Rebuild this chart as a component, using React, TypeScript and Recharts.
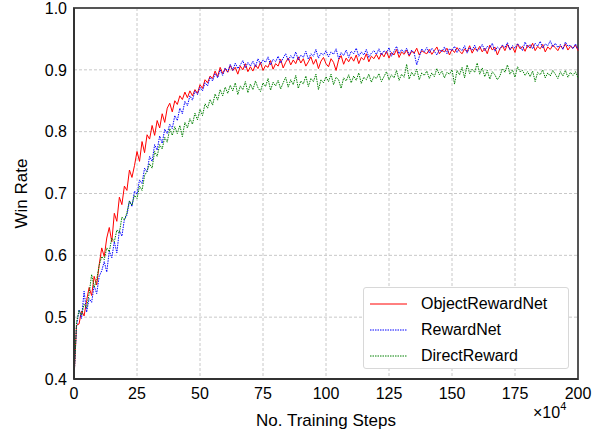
import React from 'react';
import { LineChart, Line, XAxis, YAxis, CartesianGrid, ReferenceArea } from 'recharts';

// training steps, in units of 10^4
const steps = Array.from({ length: 201 }, (_, i) => i);

const objectRewardNet = [
  0.40,
  0.487, 0.489, 0.510, 0.502, 0.527, 0.548, 0.535, 0.566, 0.552, 0.585,
  0.612, 0.598, 0.628, 0.645, 0.622, 0.668, 0.655, 0.694, 0.682, 0.712,
  0.705, 0.738, 0.726, 0.745, 0.768, 0.752, 0.784, 0.766, 0.795, 0.788,
  0.810, 0.794, 0.818, 0.806, 0.829, 0.815, 0.838, 0.846, 0.832, 0.850,
  0.844, 0.858, 0.852, 0.864, 0.855, 0.866, 0.858, 0.868, 0.862, 0.876,
  0.870, 0.884, 0.879, 0.890, 0.886, 0.898, 0.889, 0.904, 0.894, 0.902,
  0.896, 0.907, 0.899, 0.904, 0.893, 0.906, 0.900, 0.910, 0.897, 0.905,
  0.898, 0.908, 0.902, 0.912, 0.899, 0.907, 0.904, 0.915, 0.901, 0.910,
  0.906, 0.917, 0.903, 0.912, 0.919, 0.908, 0.916, 0.910, 0.921, 0.911,
  0.918, 0.906, 0.913, 0.921, 0.909, 0.917, 0.902, 0.914, 0.920, 0.910,
  0.905, 0.918, 0.912, 0.899, 0.916, 0.923, 0.909, 0.919, 0.913, 0.921,
  0.914, 0.924, 0.910, 0.920, 0.916, 0.926, 0.913, 0.922, 0.918, 0.925,
  0.917, 0.927, 0.921, 0.930, 0.919, 0.928, 0.924, 0.933, 0.920, 0.929,
  0.925, 0.932, 0.922, 0.930, 0.927, 0.935, 0.924, 0.931, 0.928, 0.926,
  0.933, 0.925, 0.931, 0.937, 0.926, 0.932, 0.929, 0.935, 0.924, 0.933,
  0.928, 0.936, 0.930, 0.926, 0.934, 0.929, 0.939, 0.927, 0.935, 0.931,
  0.938, 0.929, 0.935, 0.926, 0.940, 0.932, 0.937, 0.924, 0.934, 0.939,
  0.931, 0.941, 0.933, 0.937, 0.928, 0.942, 0.934, 0.938, 0.930, 0.940,
  0.935, 0.943, 0.931, 0.938, 0.934, 0.941, 0.929, 0.937, 0.933, 0.940,
  0.936, 0.931, 0.939, 0.934, 0.942, 0.932, 0.938, 0.935, 0.940, 0.931,
];

const rewardNet = [
  0.40,
  0.485, 0.512, 0.498, 0.542, 0.508, 0.530, 0.524, 0.551, 0.538, 0.566,
  0.575, 0.590, 0.573, 0.607, 0.596, 0.622, 0.604, 0.640, 0.631, 0.658,
  0.665, 0.688, 0.679, 0.704, 0.699, 0.722, 0.716, 0.741, 0.735, 0.760,
  0.752, 0.779, 0.770, 0.793, 0.781, 0.804, 0.797, 0.812, 0.805, 0.826,
  0.818, 0.838, 0.829, 0.849, 0.842, 0.858, 0.851, 0.866, 0.860, 0.872,
  0.866, 0.879, 0.874, 0.888, 0.882, 0.894, 0.887, 0.900, 0.891, 0.903,
  0.897, 0.909, 0.899, 0.911, 0.902, 0.908, 0.915, 0.903, 0.912, 0.906,
  0.914, 0.905, 0.918, 0.909, 0.916, 0.912, 0.921, 0.908, 0.917, 0.913,
  0.922, 0.911, 0.919, 0.926, 0.915, 0.923, 0.918, 0.929, 0.916, 0.924,
  0.920, 0.930, 0.917, 0.926, 0.922, 0.933, 0.919, 0.927, 0.924, 0.931,
  0.921, 0.929, 0.925, 0.934, 0.918, 0.928, 0.923, 0.932, 0.920, 0.930,
  0.926, 0.935, 0.922, 0.929, 0.924, 0.933, 0.920, 0.927, 0.931, 0.925,
  0.934, 0.924, 0.931, 0.927, 0.936, 0.922, 0.930, 0.938, 0.926, 0.933,
  0.928, 0.935, 0.924, 0.932, 0.927, 0.908, 0.921, 0.934, 0.929, 0.936,
  0.927, 0.935, 0.930, 0.924, 0.933, 0.929, 0.937, 0.926, 0.934, 0.931,
  0.938, 0.928, 0.935, 0.931, 0.939, 0.927, 0.936, 0.932, 0.940, 0.930,
  0.934, 0.941, 0.931, 0.938, 0.935, 0.943, 0.930, 0.937, 0.933, 0.940,
  0.936, 0.944, 0.932, 0.939, 0.935, 0.942, 0.938, 0.931, 0.945, 0.936,
  0.941, 0.934, 0.943, 0.938, 0.946, 0.935, 0.942, 0.939, 0.947, 0.937,
  0.943, 0.936, 0.941, 0.933, 0.945, 0.938, 0.940, 0.934, 0.942, 0.933,
];

const directReward = [
  0.40,
  0.492, 0.511, 0.503, 0.521, 0.515, 0.538, 0.569, 0.548, 0.561, 0.584,
  0.598, 0.593, 0.612, 0.606, 0.628, 0.622, 0.641, 0.636, 0.662, 0.657,
  0.669, 0.688, 0.681, 0.697, 0.692, 0.712, 0.705, 0.729, 0.736, 0.748,
  0.741, 0.768, 0.760, 0.779, 0.772, 0.791, 0.783, 0.805, 0.794, 0.808,
  0.797, 0.810, 0.792, 0.815, 0.806, 0.821, 0.812, 0.830, 0.819, 0.836,
  0.826, 0.845, 0.838, 0.852, 0.843, 0.861, 0.851, 0.868, 0.858, 0.872,
  0.862, 0.875, 0.866, 0.879, 0.860, 0.874, 0.868, 0.881, 0.863, 0.877,
  0.868, 0.882, 0.871, 0.865, 0.879, 0.873, 0.886, 0.867, 0.880, 0.874,
  0.883, 0.869, 0.879, 0.888, 0.872, 0.884, 0.876, 0.891, 0.870, 0.882,
  0.877, 0.890, 0.873, 0.886, 0.881, 0.893, 0.868, 0.884, 0.879, 0.889,
  0.881, 0.893, 0.876, 0.888, 0.884, 0.870, 0.887, 0.882, 0.892, 0.879,
  0.890, 0.883, 0.895, 0.878, 0.888, 0.884, 0.893, 0.880, 0.889, 0.886,
  0.894, 0.881, 0.889, 0.897, 0.884, 0.892, 0.887, 0.899, 0.883, 0.893,
  0.888, 0.909, 0.885, 0.896, 0.890, 0.901, 0.884, 0.895, 0.891, 0.898,
  0.886, 0.895, 0.889, 0.902, 0.892, 0.898, 0.887, 0.896, 0.893, 0.900,
  0.877, 0.899, 0.892, 0.904, 0.887, 0.908, 0.894, 0.901, 0.896, 0.911,
  0.893, 0.903, 0.889, 0.899, 0.885, 0.897, 0.892, 0.884, 0.890, 0.902,
  0.896, 0.908, 0.893, 0.900, 0.888, 0.905, 0.897, 0.899, 0.891, 0.897,
  0.889, 0.898, 0.881, 0.896, 0.892, 0.900, 0.887, 0.895, 0.890, 0.899,
  0.893, 0.886, 0.897, 0.890, 0.899, 0.888, 0.896, 0.891, 0.897, 0.887,
];

const xTicks = [0, 25, 50, 75, 100, 125, 150, 175, 200];
const yTicks = [0.4, 0.5, 0.6, 0.7, 0.8, 0.9, 1.0];

const series = [
  { key: 'ObjectRewardNet', color: '#ff0000', dash: undefined },
  { key: 'RewardNet', color: '#0000ff', dash: '1.5 1' },
  { key: 'DirectReward', color: '#008000', dash: '1.5 1' },
];

const data = steps.map((s, i) => ({
  step: s,
  ObjectRewardNet: objectRewardNet[i],
  RewardNet: rewardNet[i],
  DirectReward: directReward[i],
}));

const FONT = '"Liberation Sans", Arial, sans-serif';

function LegendBox() {
  return (
    <div
      style={{
        position: 'absolute',
        left: 363,
        top: 287,
        width: 206,
        height: 82,
        background: '#fff',
        border: '1px solid #d8d8d8',
        borderRadius: 3,
        boxSizing: 'border-box',
        paddingTop: 3,
        fontFamily: FONT,
        fontSize: 16,
        color: '#000',
      }}
    >
      {series.map((s) => (
        <div key={s.key} style={{ display: 'flex', alignItems: 'center', height: 26 }}>
          <svg width={51} height={10} style={{ marginLeft: 6, flex: 'none' }}>
            <line x1={0} x2={37} y1={5} y2={5} stroke={s.color} strokeWidth={1} strokeDasharray={s.dash} />
          </svg>
          <span>{s.key}</span>
        </div>
      ))}
    </div>
  );
}

export default function App() {
  return (
    <div style={{ position: 'absolute', left: 0, top: 0, width: 602, height: 437, background: '#fff' }}>
      <LineChart width={602} height={437} data={data} margin={{ top: 8, right: 24, left: 0, bottom: 0 }}>
        <CartesianGrid xAxisId="main" yAxisId="main" stroke="#c8c8c8" strokeDasharray="3 2" />
        <XAxis
          xAxisId="main"
          dataKey="step"
          type="number"
          domain={[0, 200]}
          ticks={xTicks}
          height={58}
          tickSize={0}
          tickMargin={9}
          axisLine={{ stroke: '#333', strokeWidth: 2 }}
          tickLine={false}
          tick={{ fill: '#000', fontSize: 16, fontFamily: FONT }}
          interval={0}
        />
        <YAxis
          yAxisId="main"
          type="number"
          domain={[0.4, 1.0]}
          ticks={yTicks}
          width={74}
          tickSize={0}
          tickMargin={7}
          axisLine={{ stroke: '#333', strokeWidth: 2 }}
          tickLine={false}
          tick={{ fill: '#000', fontSize: 16, fontFamily: FONT }}
          tickFormatter={(v: number) => v.toFixed(1)}
          interval={0}
          label={{ value: 'Win Rate', angle: -90, position: 'insideLeft', offset: 21, style: { fill: '#000', fontSize: 17, fontFamily: FONT, textAnchor: 'middle' } }}
        />
        <ReferenceArea
          xAxisId="main"
          yAxisId="main"
          x1={0}
          x2={200}
          y1={0.4}
          y2={1.0}
          fill="none"
          fillOpacity={0}
          stroke="#555"
          strokeWidth={2}
        />
        {series.map((s) => (
          <Line
            key={s.key}
            xAxisId="main"
            yAxisId="main"
            type="linear"
            dataKey={s.key}
            stroke={s.color}
            strokeWidth={1}
            strokeDasharray={s.dash}
            dot={false}
            activeDot={false}
            isAnimationActive={false}
          />
        ))}
      </LineChart>
      <LegendBox />
      <div
        style={{
          position: 'absolute',
          left: 74,
          width: 504,
          top: 411,
          textAlign: 'center',
          fontFamily: FONT,
          fontSize: 17,
          color: '#000',
        }}
      >
        No. Training Steps
      </div>
      <div
        style={{
          position: 'absolute',
          left: 533,
          top: 402,
          fontFamily: FONT,
          fontSize: 16,
          color: '#000',
          whiteSpace: 'nowrap',
        }}
      >
        ×10<sup style={{ fontSize: 11, position: 'relative', top: -2 }}>4</sup>
      </div>
    </div>
  );
}
